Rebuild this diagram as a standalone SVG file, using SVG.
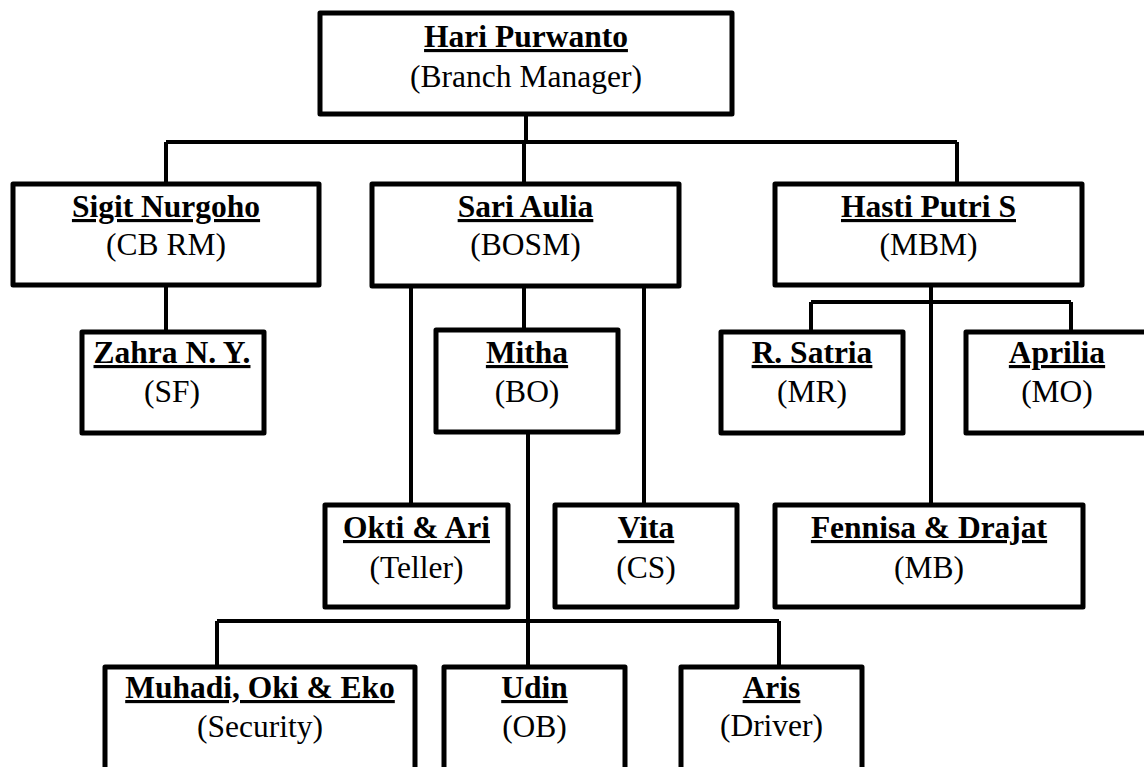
<svg xmlns="http://www.w3.org/2000/svg" width="1144" height="767" viewBox="0 0 1144 767">
<style>
.box{fill:#fff;stroke:#000;stroke-width:5;stroke-linejoin:round}
.ln{fill:none;stroke:#000;stroke-width:4}
text{font-family:"Liberation Serif","Times New Roman",serif;font-size:31.5px;fill:#000;text-anchor:middle}
.n{font-weight:bold;text-decoration:underline;text-decoration-thickness:3px;text-underline-offset:4px}
</style>
<rect width="1144" height="767" fill="#fff"/>
<g id="connectors">
<path class="ln" d="M526 114V142M166 142H957M166 142V184M524 142V184M957 142V184"/>
<path class="ln" d="M166 285V332"/>
<path class="ln" d="M411 286V505M524 286V330M644 286V505"/>
<path class="ln" d="M528 432V667M217 621H779M217 621V667M779 621V667"/>
<path class="ln" d="M931 285V505M811 302H1071M811 302V332M1071 302V332"/>
</g>
<g id="hari"><rect class="box" x="320" y="13" width="412" height="101"/><text class="n" x="526" y="47">Hari Purwanto</text><text x="526" y="87">(Branch Manager)</text></g>
<g id="sigit"><rect class="box" x="13" y="184" width="306" height="101"/><text class="n" x="166" y="217">Sigit Nurgoho</text><text x="166" y="255">(CB RM)</text></g>
<g id="sari"><rect class="box" x="372" y="184" width="307" height="102"/><text class="n" x="525.5" y="217">Sari Aulia</text><text x="525.5" y="255">(BOSM)</text></g>
<g id="hasti"><rect class="box" x="775" y="184" width="307" height="101"/><text class="n" x="928.5" y="217">Hasti Putri S</text><text x="928.5" y="255">(MBM)</text></g>
<g id="zahra"><rect class="box" x="82" y="332" width="182" height="101"/><text class="n" x="172" y="363">Zahra N. Y.</text><text x="172" y="402">(SF)</text></g>
<g id="mitha"><rect class="box" x="436" y="330" width="182" height="102"/><text class="n" x="527" y="363">Mitha</text><text x="527" y="402">(BO)</text></g>
<g id="satria"><rect class="box" x="721" y="332" width="182" height="101"/><text class="n" x="812" y="363">R. Satria</text><text x="812" y="402">(MR)</text></g>
<g id="aprilia"><rect class="box" x="966" y="332" width="182" height="101"/><text class="n" x="1057" y="363">Aprilia</text><text x="1057" y="402">(MO)</text></g>
<g id="okti"><rect class="box" x="325" y="505" width="183" height="102"/><text class="n" x="416.5" y="538">Okti &amp; Ari</text><text x="416.5" y="578">(Teller)</text></g>
<g id="vita"><rect class="box" x="555" y="505" width="182" height="102"/><text class="n" x="646" y="538">Vita</text><text x="646" y="578">(CS)</text></g>
<g id="fennisa"><rect class="box" x="775" y="505" width="308" height="102"/><text class="n" x="929" y="538">Fennisa &amp; Drajat</text><text x="929" y="578">(MB)</text></g>
<g id="muhadi"><rect class="box" x="105" y="667" width="310" height="110"/><text class="n" x="260" y="698">Muhadi, Oki &amp; Eko</text><text x="260" y="737">(Security)</text></g>
<g id="udin"><rect class="box" x="444" y="667" width="181" height="110"/><text class="n" x="534.5" y="698">Udin</text><text x="534.5" y="737">(OB)</text></g>
<g id="aris"><rect class="box" x="681" y="667" width="181" height="110"/><text class="n" x="771.5" y="698">Aris</text><text x="771.5" y="736">(Driver)</text></g>
</svg>
